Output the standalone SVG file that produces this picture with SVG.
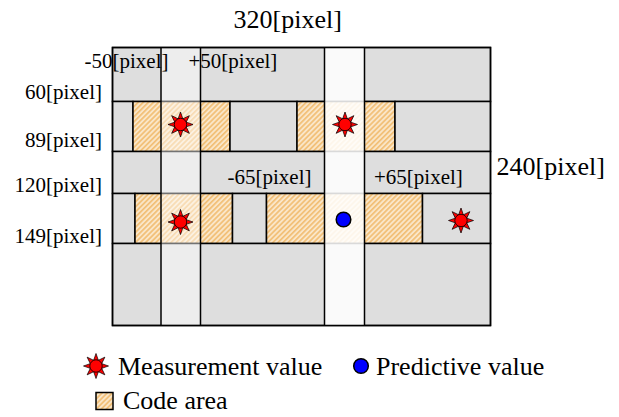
<svg xmlns="http://www.w3.org/2000/svg" xmlns:xlink="http://www.w3.org/1999/xlink" width="619" height="417" viewBox="0 0 619 417">
<style>
.cell{fill:#dedede;stroke:#000;stroke-width:1.5}
.code{fill:url(#hatch);stroke:#000;stroke-width:1.5}
.vline{stroke:#000;stroke-width:1.5}
.t{font-family:"Liberation Serif","Times New Roman",serif;fill:#000}
.big{font-size:26px}
.small{font-size:21px}
</style>
<defs>
<pattern id="hatch" patternUnits="userSpaceOnUse" width="3.6" height="3.6" patternTransform="rotate(45)">
<rect width="3.6" height="3.6" fill="#fae6c8"/>
<rect width="1.7" height="3.6" fill="#f2bf76"/>
</pattern>
<g id="star">
<g fill="#f00" stroke="#000" stroke-width="0.7" stroke-linejoin="round">
<polygon points="-2.6,-5 2.6,-5 0,-12.5"/>
<polygon points="-2.6,-5 2.6,-5 0,-12.5" transform="rotate(45)"/>
<polygon points="-2.6,-5 2.6,-5 0,-12.5" transform="rotate(90)"/>
<polygon points="-2.6,-5 2.6,-5 0,-12.5" transform="rotate(135)"/>
<polygon points="-2.6,-5 2.6,-5 0,-12.5" transform="rotate(180)"/>
<polygon points="-2.6,-5 2.6,-5 0,-12.5" transform="rotate(225)"/>
<polygon points="-2.6,-5 2.6,-5 0,-12.5" transform="rotate(270)"/>
<polygon points="-2.6,-5 2.6,-5 0,-12.5" transform="rotate(315)"/>
</g>
<circle r="6.2" fill="#f00" stroke="#000" stroke-width="0.8"/>
</g>
</defs>
<rect width="619" height="417" fill="#fff"/>
<g id="grid">
<rect class="cell" x="112.5" y="47.5" width="378" height="54"/>
<rect class="cell" x="112.5" y="101.5" width="20.5" height="50"/>
<rect class="code" x="133" y="101.5" width="97" height="50"/>
<rect class="cell" x="230" y="101.5" width="67" height="50"/>
<rect class="code" x="297" y="101.5" width="98" height="50"/>
<rect class="cell" x="395" y="101.5" width="95.5" height="50"/>
<rect class="cell" x="112.5" y="151.5" width="378" height="42"/>
<rect class="cell" x="112.5" y="193.5" width="22.5" height="50"/>
<rect class="code" x="135" y="193.5" width="97.5" height="50"/>
<rect class="cell" x="232.5" y="193.5" width="34" height="50"/>
<rect class="code" x="266.5" y="193.5" width="156" height="50"/>
<rect class="cell" x="422.5" y="193.5" width="68" height="50"/>
<rect class="cell" x="112.5" y="243.5" width="378" height="82"/>
</g>
<g id="search-columns">
<rect x="161" y="47.5" width="39.5" height="278" fill="#fff" fill-opacity="0.45"/>
<rect x="324.5" y="47.5" width="40" height="278" fill="#fff" fill-opacity="0.85"/>
<line class="vline" x1="161" y1="47.5" x2="161" y2="325.5"/>
<line class="vline" x1="200.5" y1="47.5" x2="200.5" y2="325.5"/>
<line class="vline" x1="324.5" y1="47.5" x2="324.5" y2="325.5"/>
<line class="vline" x1="364.5" y1="47.5" x2="364.5" y2="325.5"/>
<rect x="112.5" y="47.5" width="378" height="278" fill="none" stroke="#000" stroke-width="1.5"/>
</g>
<g id="markers">
<use xlink:href="#star" x="180.5" y="124.5"/>
<use xlink:href="#star" x="345" y="124.5"/>
<use xlink:href="#star" x="180.5" y="222"/>
<use xlink:href="#star" x="461" y="220.5"/>
<circle cx="343.5" cy="219.5" r="7.3" fill="#00f" stroke="#000" stroke-width="1.5"/>
</g>
<g id="labels">
<text class="t big" x="233.5" y="28">320[pixel]</text>
<text class="t big" x="496.5" y="175">240[pixel]</text>
<text class="t small" x="84.5" y="68">-50[pixel]</text>
<text class="t small" x="188.5" y="68">+50[pixel]</text>
<text class="t small" x="227.5" y="183.5">-65[pixel]</text>
<text class="t small" x="374" y="183.5">+65[pixel]</text>
<text class="t small" x="102" y="99" text-anchor="end">60[pixel]</text>
<text class="t small" x="102" y="147" text-anchor="end">89[pixel]</text>
<text class="t small" x="102" y="192" text-anchor="end">120[pixel]</text>
<text class="t small" x="102" y="243" text-anchor="end">149[pixel]</text>
</g>
<g id="legend">
<use xlink:href="#star" x="96" y="366"/>
<text class="t big" x="118" y="375">Measurement value</text>
<circle cx="361" cy="366" r="7.3" fill="#00f" stroke="#000" stroke-width="1.5"/>
<text class="t big" x="376" y="375">Predictive value</text>
<rect class="code" x="96" y="392.5" width="17" height="17"/>
<text class="t big" x="123" y="409">Code area</text>
</g>
</svg>
